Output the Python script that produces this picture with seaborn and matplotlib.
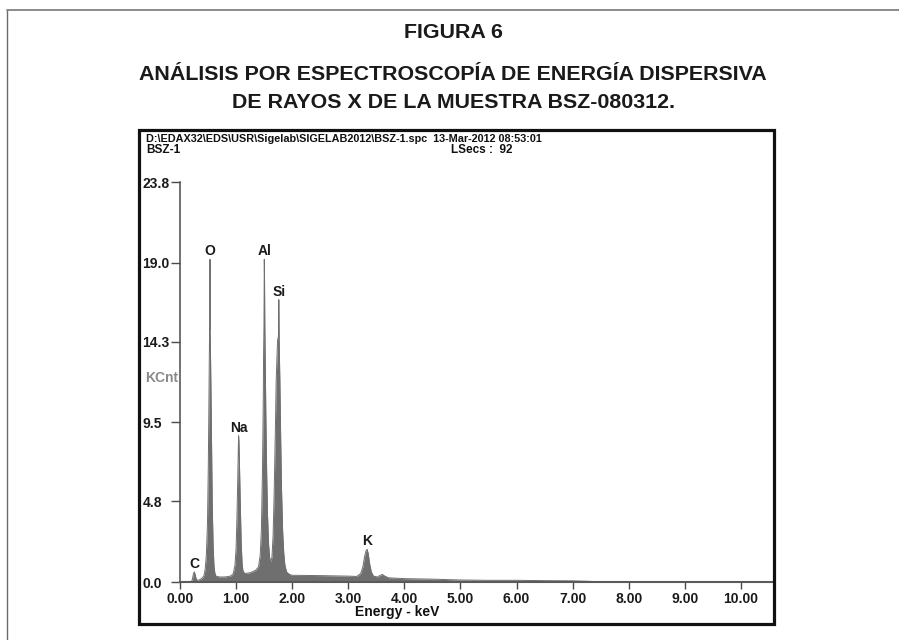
import matplotlib
matplotlib.use("Agg")
import matplotlib.pyplot as plt
from matplotlib import font_manager
from matplotlib.patches import Rectangle
from matplotlib.lines import Line2D
import seaborn as sns
import numpy as np

# ---------------- data ----------------
energy_kev = [0.00, 0.20, 0.22, 0.24, 0.255, 0.27, 0.29, 0.32, 0.36, 0.40, 0.43, 0.45,
              0.47, 0.49, 0.505, 0.515, 0.523, 0.528, 0.533, 0.535, 0.537, 0.545, 0.555,
              0.565, 0.575, 0.59, 0.605, 0.62, 0.64, 0.70, 0.80, 0.90, 0.95, 0.98, 1.00,
              1.015, 1.03, 1.04, 1.045, 1.05, 1.06, 1.075, 1.09, 1.105, 1.12, 1.15, 1.25,
              1.35, 1.40, 1.43, 1.45, 1.47, 1.485, 1.49, 1.497, 1.503, 1.507, 1.512, 1.52,
              1.53, 1.545, 1.56, 1.58, 1.60, 1.62, 1.64, 1.66, 1.68, 1.70, 1.715, 1.73,
              1.74, 1.755, 1.762, 1.768, 1.78, 1.795, 1.81, 1.83, 1.85, 1.87, 1.90, 1.95,
              2.00, 2.50, 3.00, 3.15, 3.22, 3.26, 3.29, 3.315, 3.335, 3.355, 3.38, 3.41,
              3.45, 3.52, 3.57, 3.61, 3.65, 3.72, 4.00, 4.50, 5.00, 5.50, 6.00, 6.50,
              7.00, 7.30, 7.50, 10.59]
counts_kcnt = [0.00, 0.00, 0.15, 0.50, 0.60, 0.45, 0.15, 0.10, 0.15, 0.25, 0.40, 0.80,
               1.60, 3.50, 7.00, 10.5, 13.5, 15.0, 15.0, 19.2, 14.9, 13.2, 10.5,
               7.50, 4.50, 2.20, 1.00, 0.55, 0.35, 0.30, 0.30, 0.35, 0.50, 1.00, 2.00,
               3.80, 6.20, 8.00, 8.70, 8.40, 7.00, 4.60, 2.40, 1.20, 0.70, 0.50, 0.55,
               0.70, 0.90, 1.60, 3.00, 6.50, 11.0, 13.5, 15.3, 19.2, 18.0, 15.2, 13.0,
               10.0, 6.50, 4.00, 2.20, 1.40, 1.20, 1.50, 2.80, 5.50, 9.00, 12.0, 13.5,
               14.4, 14.6, 16.8, 14.3, 12.0, 8.50, 5.50, 3.00, 1.70, 1.00, 0.60, 0.45,
               0.40, 0.38, 0.35, 0.33, 0.50, 0.90, 1.50, 1.85, 1.95, 1.70, 1.10, 0.60,
               0.35, 0.30, 0.40, 0.45, 0.35, 0.25, 0.20, 0.17, 0.12, 0.10, 0.10, 0.08,
               0.07, 0.04, 0.00, 0.00]

element_labels = ["C", "O", "Na", "Al", "Si", "K"]
label_kev = [0.255, 0.535, 1.045, 1.503, 1.762, 3.335]
label_kcnt = [0.60, 19.2, 8.70, 19.2, 16.8, 1.95]

y_ticks = [0.0, 4.8, 9.5, 14.3, 19.0, 23.8]
y_tick_labels = ["0.0", "4.8", "9.5", "14.3", "19.0", "23.8"]
x_ticks = [0, 1, 2, 3, 4, 5, 6, 7, 8, 9, 10]
x_tick_labels = ["0.00", "1.00", "2.00", "3.00", "4.00", "5.00", "6.00", "7.00",
                 "8.00", "9.00", "10.00"]

title_lines = ["FIGURA 6",
               "ANÁLISIS POR ESPECTROSCOPÍA DE ENERGÍA DISPERSIVA",
               "DE RAYOS X DE LA MUESTRA BSZ-080312."]
header_path = "D:\\EDAX32\\EDS\\USR\\Sigelab\\SIGELAB2012\\BSZ-1.spc  13-Mar-2012 08:53:01"
header_sample = "BSZ-1"
header_lsecs = "LSecs :  92"
y_label = "KCnt"
x_label = "Energy - keV"

# ---------------- style ----------------
sns.set_theme(style="white")
available = {f.name for f in font_manager.fontManager.ttflist}
narrow = next((n for n in ["Liberation Sans Narrow", "DejaVu Sans Condensed", "Liberation Sans"]
               if n in available), "DejaVu Sans")
plt.rcParams["font.family"] = ["Liberation Sans", "DejaVu Sans"]

W, H = 899, 640
fig = plt.figure(figsize=(W / 100, H / 100), dpi=100)
fig.patch.set_facecolor("white")


def P(x, y):
    return (x / W, 1 - y / H)


# outer frame (open at right/bottom)
fig.add_artist(Line2D([7 / W, 7 / W], [1 - 10 / H, 0], transform=fig.transFigure,
                      color="#6a6a6a", lw=1.0))
fig.add_artist(Line2D([7 / W, 1], [1 - 10 / H, 1 - 10 / H], transform=fig.transFigure,
                      color="#8a8a8a", lw=1.4))

# titles
title_y = [32, 75, 102]
for t, yy in zip(title_lines, title_y):
    fig.text(*P(453, yy), t, ha="center", va="center", fontsize=15.4,
             fontweight="bold", color="#1a1a1a", family=["Liberation Sans", "DejaVu Sans"])

# inner box
fig.add_artist(Rectangle(P(139, 624), 635 / W, 494 / H, transform=fig.transFigure,
                         fill=False, edgecolor="#111111", lw=2.3))

# axes
x0, x1, y0, y1 = 180, 774, 582, 182
ax = fig.add_axes([x0 / W, 1 - y0 / H, (x1 - x0) / W, (y0 - y1) / H])
ax.set_facecolor("none")
spec_color = "#6f6f6f"
ax.fill_between(energy_kev, counts_kcnt, 0, color=spec_color, lw=0)
sns.lineplot(x=energy_kev, y=counts_kcnt, ax=ax, color=spec_color, lw=0.7,
             estimator=None, sort=False)
ax.set_xlim(0, 10.59)
ax.set_ylim(0, 23.8)

for s in ["top", "right"]:
    ax.spines[s].set_visible(False)
ax.spines["left"].set_color("#4a4a4a")
ax.spines["left"].set_linewidth(1.1)
ax.spines["bottom"].set_color("#5a5a5a")
ax.spines["bottom"].set_linewidth(1.5)

ax.set_yticks(y_ticks)
ax.set_yticklabels(y_tick_labels)
ax.set_xticks(x_ticks)
ax.set_xticklabels(x_tick_labels)
ax.tick_params(axis="y", direction="out", length=6.5, width=1.0, color="#4a4a4a",
               left=True, pad=20.5, labelsize=10)
ax.tick_params(axis="x", direction="out", length=5, width=1.0, color="#4a4a4a",
               bottom=True, pad=2, labelsize=10)
for lab in ax.get_yticklabels():
    lab.set_ha("left")
    lab.set_family(narrow)
    lab.set_fontweight("bold")
    lab.set_color("#1a1a1a")
for lab in ax.get_xticklabels():
    lab.set_family(narrow)
    lab.set_fontweight("bold")
    lab.set_color("#1a1a1a")
ax.set_xlabel("")
ax.set_ylabel("")

for name, ex, ey in zip(element_labels, label_kev, label_kcnt):
    ax.text(ex, ey + 0.05, name, ha="center", va="bottom", fontsize=10,
            fontweight="bold", family=narrow, color="#1a1a1a")

# header / axis texts
fig.text(*P(146, 138.5), header_path, ha="left", va="center", fontsize=7.8,
         fontweight="bold", family=narrow, color="#111111")
fig.text(*P(146, 150), header_sample, ha="left", va="center", fontsize=8.5,
         fontweight="bold", family=narrow, color="#111111")
fig.text(*P(451, 150), header_lsecs, ha="left", va="center", fontsize=8.5,
         fontweight="bold", family=narrow, color="#111111")
fig.text(*P(145, 378), y_label, ha="left", va="center", fontsize=10,
         fontweight="bold", family=narrow, color="#8a8a8a")
fig.text(*P(397, 612), x_label, ha="center", va="center", fontsize=10,
         fontweight="bold", family=narrow, color="#111111")

fig.savefig("out.png", dpi=100, facecolor="white")
